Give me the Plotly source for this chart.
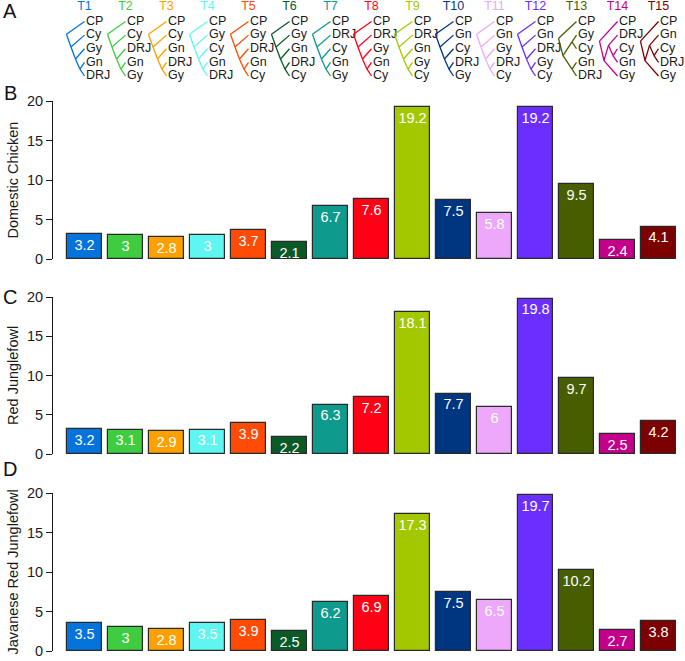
import plotly.graph_objects as go

# ---------------- data ----------------
categories = ["T1", "T2", "T3", "T4", "T5", "T6", "T7", "T8", "T9", "T10",
              "T11", "T12", "T13", "T14", "T15"]
bar_colors = ["#0473DB", "#40CC40", "#FF9F00", "#5FF5F0", "#FF4B05", "#0A5A28",
              "#0E9A8D", "#FF0015", "#A3C800", "#003580", "#EDA8FC", "#6A2EFF",
              "#465E00", "#C4008B", "#7C0000"]
domestic_chicken = [3.2, 3, 2.8, 3, 3.7, 2.1, 6.7, 7.6, 19.2, 7.5, 5.8, 19.2, 9.5, 2.4, 4.1]
red_junglefowl = [3.2, 3.1, 2.9, 3.1, 3.9, 2.2, 6.3, 7.2, 18.1, 7.7, 6, 19.8, 9.7, 2.5, 4.2]
javanese_red_junglefowl = [3.5, 3, 2.8, 3.5, 3.9, 2.5, 6.2, 6.9, 17.3, 7.5, 6.5, 19.7, 10.2, 2.7, 3.8]
panel_titles = ["Domestic Chicken", "Red Junglefowl", "Javanese Red Junglefowl"]
panel_letters = ["B", "C", "D"]
y_ticks = [0, 5, 10, 15, 20]

# topologies, tips listed top -> bottom
tree_topologies = [
    ("CP", ("Cy", ("Gy", ("Gn", "DRJ")))),
    ("CP", ("Cy", ("DRJ", ("Gn", "Gy")))),
    ("CP", ("Cy", ("Gn", ("DRJ", "Gy")))),
    ("CP", ("Gy", ("Cy", ("Gn", "DRJ")))),
    ("CP", ("Gy", ("DRJ", ("Gn", "Cy")))),
    ("CP", ("Gy", ("Gn", ("DRJ", "Cy")))),
    ("CP", ("DRJ", ("Cy", ("Gn", "Gy")))),
    ("CP", ("DRJ", ("Gy", ("Gn", "Cy")))),
    ("CP", ("DRJ", ("Gn", ("Gy", "Cy")))),
    ("CP", ("Gn", ("Cy", ("DRJ", "Gy")))),
    ("CP", ("Gn", ("Gy", ("DRJ", "Cy")))),
    ("CP", ("Gn", ("DRJ", ("Gy", "Cy")))),
    ("CP", (("Gy", "Cy"), ("Gn", "DRJ"))),
    ("CP", (("DRJ", ("Cy", "Gn")), "Gy")),
    ("CP", (("Gn", ("Cy", "DRJ")), "Gy")),
]

# ---------------- geometry helpers ----------------
W, H = 685, 661
def px_x(p): return p / W
def px_y(p): return 1 - p / H

X_RANGE = [-0.768, 14.646]
panel_px = [(101, 259), (297, 454), (493, 651)]   # top, bottom (pixel) of each bar panel
x_dom = [px_x(53), 1.0]
FONT = "Liberation Sans, Arial"

fig = go.Figure()

def count_tips(node):
    return 1 if isinstance(node, str) else sum(count_tips(c) for c in node)

def layout_tree(tree):
    n = count_tips(tree)
    tips = []
    segs = []
    counter = [n]
    def rec(node):
        if isinstance(node, str):
            y = counter[0]
            counter[0] -= 1
            x = n - 1
            tips.append((node, x, y))
            return x, y
        kids = [rec(c) for c in node]
        x = n - count_tips(node)
        y = sum(k[1] for k in kids) / len(kids)
        for kx, ky in kids:
            segs.append(((x, y), (kx, ky)))
        return x, y
    rec(tree)
    return n, tips, segs

TREE_W = 0.44
annotations = []
for i, (cat, col, tree) in enumerate(zip(categories, bar_colors, tree_topologies)):
    n, tips, segs = layout_tree(tree)
    xs, ys = [], []
    for (x0, y0), (x1, y1) in segs:
        xs += [i - TREE_W + TREE_W * x0 / (n - 1), i - TREE_W + TREE_W * x1 / (n - 1), None]
        ys += [y0, y1, None]
    fig.add_trace(go.Scatter(x=xs, y=ys, mode="lines", line=dict(color=col, width=1.3),
                             xaxis="x4", yaxis="y4", hoverinfo="skip", showlegend=False))
    fig.add_trace(go.Scatter(x=[i + 0.035] * len(tips), y=[t[2] for t in tips],
                             text=[t[0] for t in tips], mode="text", textposition="middle right",
                             textfont=dict(family=FONT, size=12.5, color="#1a1a1a"),
                             xaxis="x4", yaxis="y4", hoverinfo="skip", showlegend=False,
                             cliponaxis=False))
    fig.add_trace(go.Scatter(x=[i], y=[6.05], text=[cat], mode="text", textposition="middle center",
                             textfont=dict(family=FONT, size=12.5, color=col),
                             xaxis="x4", yaxis="y4", hoverinfo="skip", showlegend=False,
                             cliponaxis=False))

x_idx = list(range(len(categories)))
series = [domestic_chicken, red_junglefowl, javanese_red_junglefowl]
axis_names = [("x", "y"), ("x2", "y2"), ("x3", "y3")]
for k, (vals, (xa, ya)) in enumerate(zip(series, axis_names)):
    fig.add_trace(go.Bar(x=x_idx, y=vals, width=0.845, marker=dict(color=bar_colors,
                         line=dict(color="#2a2a2a", width=1.2)),
                         xaxis=xa, yaxis=ya, hoverinfo="skip", showlegend=False))
    fig.add_trace(go.Scatter(x=x_idx, y=[v - 1.55 for v in vals], text=[f"{v:g}" for v in vals],
                             mode="text", textposition="middle center",
                             textfont=dict(family=FONT, size=14.5, color="white"),
                             xaxis=xa, yaxis=ya, hoverinfo="skip", showlegend=False,
                             cliponaxis=True))

layout = dict(width=W, height=H, margin=dict(l=0, r=0, t=0, b=0, autoexpand=False),
              plot_bgcolor="white", paper_bgcolor="white", showlegend=False,
              bargap=0, template="none")
for k, ((xa, ya), (ptop, pbot)) in enumerate(zip(axis_names, panel_px)):
    xkey = "xaxis" if xa == "x" else "xaxis" + xa[1:]
    ykey = "yaxis" if ya == "y" else "yaxis" + ya[1:]
    layout[xkey] = dict(domain=x_dom, range=X_RANGE, visible=False, fixedrange=True,
                        anchor=ya, automargin=False)
    layout[ykey] = dict(domain=[px_y(pbot), px_y(ptop)], range=[0, 20], anchor=xa,
                        tickvals=y_ticks, ticks="outside", ticklen=6, tickwidth=1,
                        tickcolor="#1a1a1a", showline=True, linecolor="#1a1a1a", linewidth=1,
                        showgrid=False, zeroline=False, automargin=False,
                        tickfont=dict(family=FONT, size=14.5, color="#1a1a1a"))
    annotations.append(dict(x=px_x(12.5), y=px_y((ptop + pbot) / 2), xref="paper", yref="paper",
                            text=panel_titles[k], textangle=-90, showarrow=False,
                            font=dict(family=FONT, size=14.5, color="#1a1a1a"),
                            xanchor="center", yanchor="middle"))

layout["xaxis4"] = dict(domain=x_dom, range=X_RANGE, visible=False, anchor="y4", automargin=False)
layout["yaxis4"] = dict(domain=[px_y(90), 1.0], range=[-0.0275, 6.578], visible=False,
                        anchor="x4", automargin=False)

letter_pos = [("A", 10, 11), ("B", 10, 93), ("C", 10, 297), ("D", 10, 469)]
for letter, lx, ly in letter_pos:
    annotations.append(dict(x=px_x(lx), y=px_y(ly), xref="paper", yref="paper", text=letter,
                            showarrow=False, xanchor="center", yanchor="middle",
                            font=dict(family=FONT, size=20, color="#111")))
layout["annotations"] = annotations
fig.update_layout(**layout)
fig.write_html("out.html", config={"displayModeBar": False},
               post_script="document.body.style.margin='0';document.body.style.overflow='hidden';")
